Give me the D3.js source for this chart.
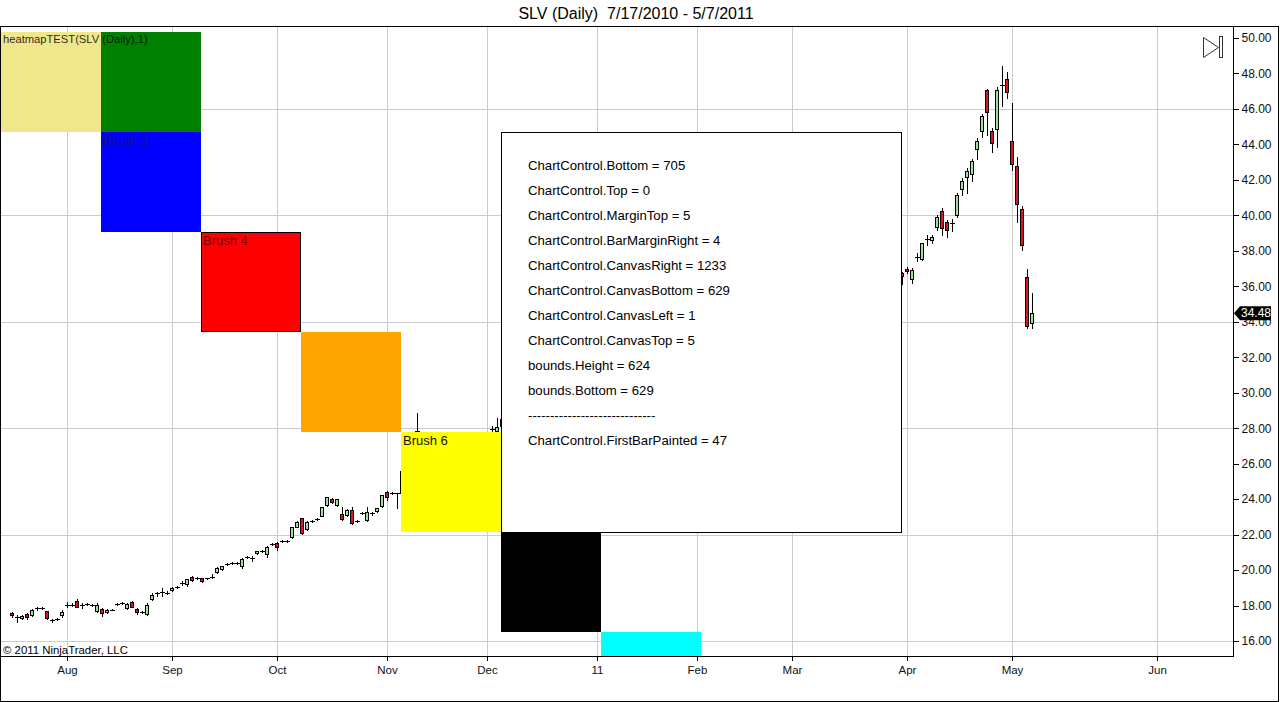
<!DOCTYPE html>
<html>
<head>
<meta charset="utf-8">
<script src="https://cdn.jsdelivr.net/npm/d3@7"></script>
<style>
body { margin: 0; background: #fff; }
svg { display: block; font-family: "Liberation Sans", Arial, sans-serif; }
</style>
</head>
<body>
<svg id="chart" width="1280" height="702"></svg>
<script>
// daily SLV bars, [open, high, low, close], 7/16/2010 .. 5/6/2011
var candles = [
    [17.60, 17.62, 17.37, 17.48], [17.36, 17.45, 17.09, 17.37], [17.28, 17.46, 17.24, 17.43], [17.52, 17.60, 17.22, 17.34],
    [17.45, 17.80, 17.42, 17.77], [17.83, 17.93, 17.75, 17.85], [17.87, 17.92, 17.82, 17.88], [17.67, 17.71, 17.26, 17.31],
    [17.17, 17.26, 17.09, 17.19], [17.24, 17.30, 17.20, 17.26], [17.47, 17.75, 17.37, 17.62], [18.04, 18.22, 17.93, 18.05],
    [18.05, 18.12, 17.98, 18.06], [18.27, 18.35, 17.90, 17.93], [18.02, 18.12, 17.84, 18.03], [18.10, 18.16, 18.05, 18.11],
    [18.04, 18.08, 17.98, 18.03], [17.71, 18.12, 17.65, 18.03], [17.79, 17.84, 17.43, 17.56], [17.62, 17.78, 17.58, 17.75],
    [17.76, 17.82, 17.72, 17.77], [18.06, 18.12, 18.02, 18.07], [18.15, 18.22, 18.10, 18.16], [17.84, 18.12, 17.80, 18.07],
    [18.18, 18.24, 17.90, 17.93], [17.79, 17.84, 17.55, 17.62], [17.63, 17.70, 17.57, 17.64], [17.51, 18.12, 17.47, 18.01],
    [18.39, 18.69, 18.31, 18.59], [18.68, 18.78, 18.54, 18.70], [18.74, 18.97, 18.55, 18.75], [18.73, 18.80, 18.66, 18.72],
    [18.86, 19.05, 18.82, 19.01], [19.05, 19.10, 19.00, 19.06], [19.28, 19.36, 19.16, 19.29], [19.20, 19.52, 19.12, 19.48],
    [19.59, 19.64, 19.38, 19.42], [19.53, 19.60, 19.48, 19.54], [19.54, 19.58, 19.33, 19.38], [19.53, 19.58, 19.47, 19.54],
    [19.62, 19.76, 19.54, 19.63], [19.89, 20.15, 19.85, 20.12], [20.06, 20.25, 20.02, 20.21], [20.32, 20.40, 20.28, 20.34],
    [20.37, 20.44, 20.32, 20.38], [20.42, 20.46, 20.34, 20.40], [20.25, 20.66, 20.10, 20.61], [20.74, 20.80, 20.70, 20.75],
    [20.67, 20.81, 20.53, 20.66], [20.94, 21.10, 20.90, 21.07], [21.06, 21.12, 21.02, 21.07], [20.89, 21.37, 20.75, 21.32],
    [21.46, 21.52, 21.42, 21.47], [21.53, 21.60, 21.13, 21.32], [21.64, 21.72, 21.60, 21.66], [21.63, 21.68, 21.56, 21.62],
    [21.88, 22.44, 21.82, 22.41], [22.44, 22.76, 22.40, 22.73], [22.92, 22.95, 22.02, 22.07], [22.30, 22.78, 22.25, 22.73],
    [22.77, 22.83, 22.72, 22.78], [22.85, 22.92, 22.80, 22.86], [23.07, 23.58, 23.02, 23.54], [23.67, 24.13, 23.62, 24.10],
    [24.02, 24.06, 23.80, 23.84], [23.67, 24.02, 23.62, 23.99], [23.16, 23.54, 22.82, 22.86], [23.10, 23.42, 23.05, 23.39],
    [23.39, 23.56, 22.60, 22.64], [22.76, 22.83, 22.70, 22.78], [23.22, 23.30, 23.15, 23.23], [22.82, 23.57, 22.78, 23.29],
    [23.18, 23.25, 23.12, 23.20], [23.31, 23.52, 23.25, 23.48], [23.61, 24.25, 23.56, 24.22], [24.38, 24.45, 23.95, 24.10],
    [24.32, 24.38, 24.28, 24.33], [24.32, 24.36, 23.48, 24.33],
    // Nov 2010
    [24.35, 25.75, 24.30, 25.60], [25.60, 26.10, 25.40, 26.00], [26.10, 27.30, 26.00, 27.20], [27.84, 28.86, 26.90, 27.86],
    [27.40, 27.60, 26.80, 27.00], [27.00, 27.50, 26.90, 27.30], [27.20, 27.30, 25.70, 26.00], [25.90, 26.30, 25.50, 25.90],
    [25.70, 25.80, 24.60, 24.80], [24.90, 25.40, 24.70, 25.20], [25.40, 26.20, 25.30, 26.10], [26.10, 26.50, 25.90, 26.30],
    [26.30, 26.60, 26.00, 26.40], [26.20, 26.30, 25.60, 26.00], [26.20, 27.00, 26.10, 26.90], [27.00, 27.60, 26.90, 27.40],
    [27.30, 27.40, 26.50, 26.80], [26.90, 27.70, 26.80, 27.50], [27.94, 28.10, 27.75, 27.95], [27.86, 28.56, 27.80, 28.08],
    // Dec 2010
    [28.10, 28.70, 28.00, 28.50], [28.50, 28.80, 28.30, 28.60], [28.80, 29.30, 28.70, 29.10], [29.40, 30.10, 29.10, 29.30],
    [29.00, 29.10, 27.80, 28.00], [28.10, 28.50, 27.90, 28.30], [28.40, 28.70, 28.20, 28.50], [28.70, 29.50, 28.60, 29.40],
    [29.30, 29.40, 28.80, 29.00], [28.80, 28.90, 28.30, 28.50], [28.60, 28.70, 28.10, 28.30], [28.40, 28.90, 28.30, 28.80],
    [28.90, 29.20, 28.70, 29.00], [29.10, 29.40, 29.00, 29.30], [29.30, 29.60, 29.20, 29.50], [29.60, 29.80, 29.40, 29.70],
    [29.60, 29.70, 29.20, 29.40], [29.50, 29.90, 29.40, 29.80], [29.90, 30.40, 29.80, 30.20],
    // Jan 2011
    [30.30, 30.70, 30.10, 30.40], [30.20, 30.30, 29.40, 29.60], [29.40, 29.50, 28.40, 28.60], [28.50, 28.90, 28.40, 28.70],
    [28.80, 29.00, 28.50, 28.80], [28.90, 29.20, 28.70, 29.00], [29.20, 29.80, 29.10, 29.60], [29.50, 29.60, 29.10, 29.30],
    [29.30, 29.80, 29.20, 29.60], [29.30, 29.40, 28.20, 28.40], [28.30, 28.40, 27.90, 28.10], [28.10, 28.60, 28.00, 28.40],
    [28.20, 28.30, 27.40, 27.50], [27.40, 27.60, 26.90, 27.00], [26.90, 27.10, 26.50, 26.70], [26.60, 27.00, 26.40, 26.80],
    [26.90, 27.30, 26.80, 27.10], [27.20, 27.50, 27.00, 27.30], [27.30, 27.60, 27.10, 27.40], [27.50, 27.80, 27.30, 27.60],
    // Feb 2011
    [27.90, 28.40, 27.80, 28.30], [28.40, 28.50, 28.10, 28.30], [28.30, 28.70, 28.20, 28.50], [28.60, 28.70, 28.20, 28.40],
    [28.50, 29.00, 28.40, 28.90], [28.90, 29.20, 28.70, 29.00], [29.10, 29.40, 28.90, 29.30], [29.30, 29.80, 29.20, 29.70],
    [29.80, 30.20, 29.70, 30.00], [30.00, 30.10, 29.40, 29.60], [29.80, 30.60, 29.70, 30.50], [30.60, 31.20, 30.50, 31.10],
    [31.20, 31.80, 31.00, 31.70], [31.80, 32.30, 31.60, 32.10], [32.30, 32.90, 32.10, 32.80], [32.90, 33.10, 32.40, 32.70],
    [32.50, 32.90, 32.20, 32.60], [32.70, 33.20, 32.60, 33.00], [33.20, 33.80, 33.10, 33.60],
    // Mar 2011
    [33.70, 34.00, 33.50, 33.80], [33.90, 34.30, 33.70, 34.20], [34.30, 35.00, 34.20, 34.90], [35.00, 35.60, 34.90, 35.40],
    [35.30, 35.40, 34.70, 35.00], [35.00, 35.20, 34.60, 34.90], [34.90, 35.30, 34.80, 35.10], [35.10, 35.20, 34.60, 34.80],
    [34.60, 34.70, 33.90, 34.20], [34.20, 34.70, 34.10, 34.50], [34.50, 34.80, 34.20, 34.40], [34.60, 35.10, 34.50, 35.00],
    [35.00, 35.30, 34.90, 35.10], [35.20, 35.40, 35.00, 35.30], [35.40, 36.10, 35.30, 36.00], [36.10, 36.50, 35.90, 36.40],
    [36.50, 36.90, 36.30, 36.70], [36.60, 36.70, 35.80, 36.00], [36.10, 36.70, 36.00, 36.60], [36.70, 37.00, 36.50, 36.80],
    [36.90, 37.20, 36.70, 37.10], [37.00, 37.10, 36.50, 36.60],
    // visible again right of the info box
    [36.73, 36.82, 36.13, 36.58], [36.96, 37.07, 36.73, 36.85], [36.43, 37.01, 36.20, 36.92], [37.66, 37.86, 37.41, 37.68],
    [37.52, 38.46, 37.48, 38.42], [38.67, 38.89, 38.33, 38.69], [38.59, 38.89, 38.42, 38.78], [39.36, 40.02, 39.17, 39.89],
    [40.26, 40.40, 38.89, 39.27], [39.64, 39.74, 38.76, 39.17], [39.57, 39.78, 39.13, 39.60], [40.02, 41.24, 39.92, 41.13],
    [41.47, 42.09, 41.15, 41.92], [42.18, 42.65, 41.24, 42.50], [42.32, 43.19, 41.95, 43.07], [43.73, 44.35, 43.19, 44.19],
    [44.77, 45.71, 44.40, 45.60], [47.05, 47.11, 44.53, 45.84], [44.76, 44.91, 43.59, 44.10], [44.85, 47.25, 43.84, 47.05],
    [47.33, 48.42, 46.17, 47.36], [47.67, 48.10, 46.60, 46.94], [44.19, 46.35, 42.56, 42.88], [42.78, 43.31, 39.64, 40.62],
    [40.34, 40.53, 38.05, 38.31], [36.54, 36.97, 33.63, 33.78], [33.95, 35.60, 33.63, 34.48]
];

var monthLabels = ["Aug", "Sep", "Oct", "Nov", "Dec", "11", "Feb", "Mar", "Apr", "May", "Jun"];
var monthBars = [11, 32, 53, 75, 95, 117, 137, 156, 179, 200, 229];
var priceTicks = [16, 18, 20, 22, 24, 26, 28, 30, 32, 34, 36, 38, 40, 42, 44, 46, 48, 50];
var gridPrices = [16, 22, 28, 34, 40, 46];

var brushNames = ["Brush 1", "Brush 2", "Brush 3", "Brush 4", "Brush 5", "Brush 6", "Brush 7", "Brush 8"];
var brushColors = ["#f0e68c", "#008000", "#0000ff", "#ff0000", "#ffa500", "#ffff00", "#000000", "#00ffff"];
var brushCols = [0, 1, 1, 2, 3, 4, 5, 6];
var brushRows = [0, 0, 1, 2, 3, 4, 5, 6];
var brushShown = ["Brush 3", "Brush 4", "Brush 6"];

var infoLines = [
    "ChartControl.Bottom = 705",
    "ChartControl.Top = 0",
    "ChartControl.MarginTop = 5",
    "ChartControl.BarMarginRight = 4",
    "ChartControl.CanvasRight = 1233",
    "ChartControl.CanvasBottom = 629",
    "ChartControl.CanvasLeft = 1",
    "ChartControl.CanvasTop = 5",
    "bounds.Height = 624",
    "bounds.Bottom = 629",
    "-----------------------------",
    "ChartControl.FirstBarPainted = 47"
];

var chartTitle = "SLV (Daily)  7/17/2010 - 5/7/2011";
var indicatorLabel = "heatmapTEST(SLV (Daily),1)";
var copyright = "\u00a9 2011 NinjaTrader, LLC";

// ---- layout
var canvasLeft = 1, canvasRight = 1233, canvasTop = 27, canvasBottom = 656;
var upColor = "#9ee09e", downColor = "#dc1422", gridColor = "#cccccc";
var labelColors = { "Brush 3": "#14148c", "Brush 4": "#740000", "Brush 6": "#111111" };

var svg = d3.select("#chart");

var x = d3.scaleLinear().domain([0, 244.2]).range([12.3, 1233.3]);
var y = d3.scaleLinear().domain([16, 50]).range([641, 38]);
var col = d3.scaleBand().domain(d3.range(8)).range([1, 801]);
var row = d3.scaleBand().domain(d3.range(8)).range([32, 832]);

function px(i) { return Math.round(x(i)); }

svg.append("defs").append("clipPath").attr("id", "canvas")
    .append("rect")
    .attr("x", canvasLeft).attr("y", canvasTop)
    .attr("width", canvasRight - canvasLeft).attr("height", canvasBottom - canvasTop);

var plot = svg.append("g").attr("clip-path", "url(#canvas)").attr("shape-rendering", "crispEdges");

// grid
plot.append("g").selectAll("line.hgrid")
    .data(gridPrices)
    .enter().append("line")
    .attr("x1", canvasLeft).attr("x2", canvasRight)
    .attr("y1", function (d) { return Math.round(y(d)) + 0.5; })
    .attr("y2", function (d) { return Math.round(y(d)) + 0.5; })
    .attr("stroke", gridColor);

plot.append("g").selectAll("line.vgrid")
    .data(monthBars)
    .enter().append("line")
    .attr("x1", function (d) { return px(d) + 0.5; })
    .attr("x2", function (d) { return px(d) + 0.5; })
    .attr("y1", canvasTop).attr("y2", canvasBottom)
    .attr("stroke", gridColor);

// candles
var bar = plot.append("g").selectAll("g.candle")
    .data(candles)
    .enter().append("g")
    .attr("class", "candle");

bar.append("line")
    .attr("x1", function (d, i) { return px(i) + 0.5; })
    .attr("x2", function (d, i) { return px(i) + 0.5; })
    .attr("y1", function (d) { return Math.round(y(d[1])); })
    .attr("y2", function (d) { return Math.round(y(d[2])) + 1; })
    .attr("stroke", "#000");

bar.each(function (d, i) {
    var g = d3.select(this);
    var top = y(Math.max(d[0], d[3]));
    var bottom = y(Math.min(d[0], d[3]));
    var c = px(i);
    if (bottom - top < 1.2) {
        var yy = Math.round((top + bottom) / 2) + 0.5;
        g.append("line")
            .attr("x1", c - 2).attr("x2", c + 3)
            .attr("y1", yy).attr("y2", yy)
            .attr("stroke", "#000");
    } else {
        var t = Math.round(top);
        g.append("rect")
            .attr("x", c - 1.5)
            .attr("y", t + 0.5)
            .attr("width", 3)
            .attr("height", Math.max(1, Math.round(bottom) - t))
            .attr("fill", d[3] >= d[0] ? upColor : downColor)
            .attr("stroke", "#000");
    }
});

// heatmap brushes
plot.append("g").selectAll("rect.brush")
    .data(brushNames)
    .enter().append("rect")
    .attr("class", "brush")
    .attr("x", function (d, i) { return col(brushCols[i]); })
    .attr("y", function (d, i) { return row(brushRows[i]); })
    .attr("width", col.bandwidth())
    .attr("height", row.bandwidth())
    .attr("fill", function (d, i) { return brushColors[i]; });

// Brush 4 has an outline
plot.append("rect")
    .attr("x", col(brushCols[3]) + 0.5)
    .attr("y", row(brushRows[3]) + 0.5)
    .attr("width", col.bandwidth() - 1)
    .attr("height", row.bandwidth() - 1)
    .attr("fill", "none")
    .attr("stroke", "#000");

plot.append("g").selectAll("text.brushlabel")
    .data(brushNames.filter(function (d) { return brushShown.indexOf(d) >= 0; }))
    .enter().append("text")
    .attr("x", function (d) { return col(brushCols[brushNames.indexOf(d)]) + 2; })
    .attr("y", function (d) { return row(brushRows[brushNames.indexOf(d)]) + 13; })
    .attr("font-size", "13px")
    .attr("fill", function (d) { return labelColors[d]; })
    .text(function (d) { return d; });

// info box
plot.append("rect")
    .attr("x", 501.5).attr("y", 132.5)
    .attr("width", 400).attr("height", 400)
    .attr("fill", "#fff").attr("stroke", "#000");

plot.append("g").selectAll("text.info")
    .data(infoLines)
    .enter().append("text")
    .attr("x", 528)
    .attr("y", function (d, i) { return 169.5 + i * 25; })
    .attr("font-size", "13.2px")
    .attr("fill", "#000")
    .text(function (d) { return d; });

plot.append("text")
    .attr("x", 3).attr("y", 43)
    .attr("font-size", "11.2px")
    .attr("fill", "#000").attr("fill-opacity", 0.85)
    .text(indicatorLabel);

plot.append("text")
    .attr("x", 3).attr("y", 654)
    .attr("font-size", "11.4px")
    .attr("fill", "#000")
    .text(copyright);

// axes
var yAxis = d3.axisRight(y)
    .tickValues(priceTicks)
    .tickFormat(d3.format(".2f"))
    .tickSize(5)
    .tickPadding(3);

var gy = svg.append("g")
    .attr("transform", "translate(" + (canvasRight + 0.5) + ",0)")
    .call(yAxis);
gy.select(".domain").remove();
gy.selectAll("text").attr("font-size", "12px").attr("fill", "#111").attr("font-family", "Liberation Sans, Arial, sans-serif");
gy.selectAll("line").attr("stroke", "#000").attr("shape-rendering", "crispEdges");

var xAxis = d3.axisBottom(x)
    .tickValues(monthBars)
    .tickFormat(function (d, i) { return monthLabels[i]; })
    .tickSize(4)
    .tickPadding(5);

var gx = svg.append("g")
    .attr("transform", "translate(0," + (canvasBottom + 0.5) + ")")
    .call(xAxis);
gx.select(".domain").remove();
gx.selectAll(".tick").attr("transform", function (d) { return "translate(" + (px(d) + 0.5) + ",0)"; });
gx.selectAll("text").attr("font-size", "11.5px").attr("fill", "#111").attr("font-family", "Liberation Sans, Arial, sans-serif");
gx.selectAll("line").attr("stroke", "#000").attr("shape-rendering", "crispEdges");

// frame
var frame = svg.append("g").attr("shape-rendering", "crispEdges").attr("stroke", "#000").attr("fill", "none");
frame.append("rect").attr("x", 0.5).attr("y", 26.5).attr("width", 1278).attr("height", 675);
frame.append("line").attr("x1", canvasRight + 0.5).attr("x2", canvasRight + 0.5).attr("y1", 26.5).attr("y2", canvasBottom + 0.5);
frame.append("line").attr("x1", 0).attr("x2", canvasRight + 0.5).attr("y1", canvasBottom + 0.5).attr("y2", canvasBottom + 0.5);

// last price marker
var lastClose = candles[candles.length - 1][3];
var ly = y(lastClose);
svg.append("path")
    .attr("d", "M" + (canvasRight + 1) + "," + ly + " L" + (canvasRight + 7) + "," + (ly - 7) +
        " H1271 V" + (ly + 7) + " H" + (canvasRight + 7) + " Z")
    .attr("fill", "#000");
svg.append("text")
    .attr("x", canvasRight + 8)
    .attr("y", ly)
    .attr("dy", "0.35em")
    .attr("font-size", "12px")
    .attr("fill", "#fff")
    .text(d3.format(".2f")(lastClose));

// scroll-to-end icon
var icon = svg.append("g").attr("stroke", "#333").attr("fill", "none");
icon.append("path").attr("d", "M1203.5,37.5 L1218.5,47.5 L1203.5,57.5 Z");
icon.append("rect").attr("x", 1219.5).attr("y", 36.5).attr("width", 3).attr("height", 21);

// title
svg.append("text")
    .attr("x", 636).attr("y", 19)
    .attr("text-anchor", "middle")
    .attr("font-size", "16px")
    .attr("fill", "#000")
    .style("white-space", "pre")
    .text(chartTitle);
</script>
</body>
</html>
